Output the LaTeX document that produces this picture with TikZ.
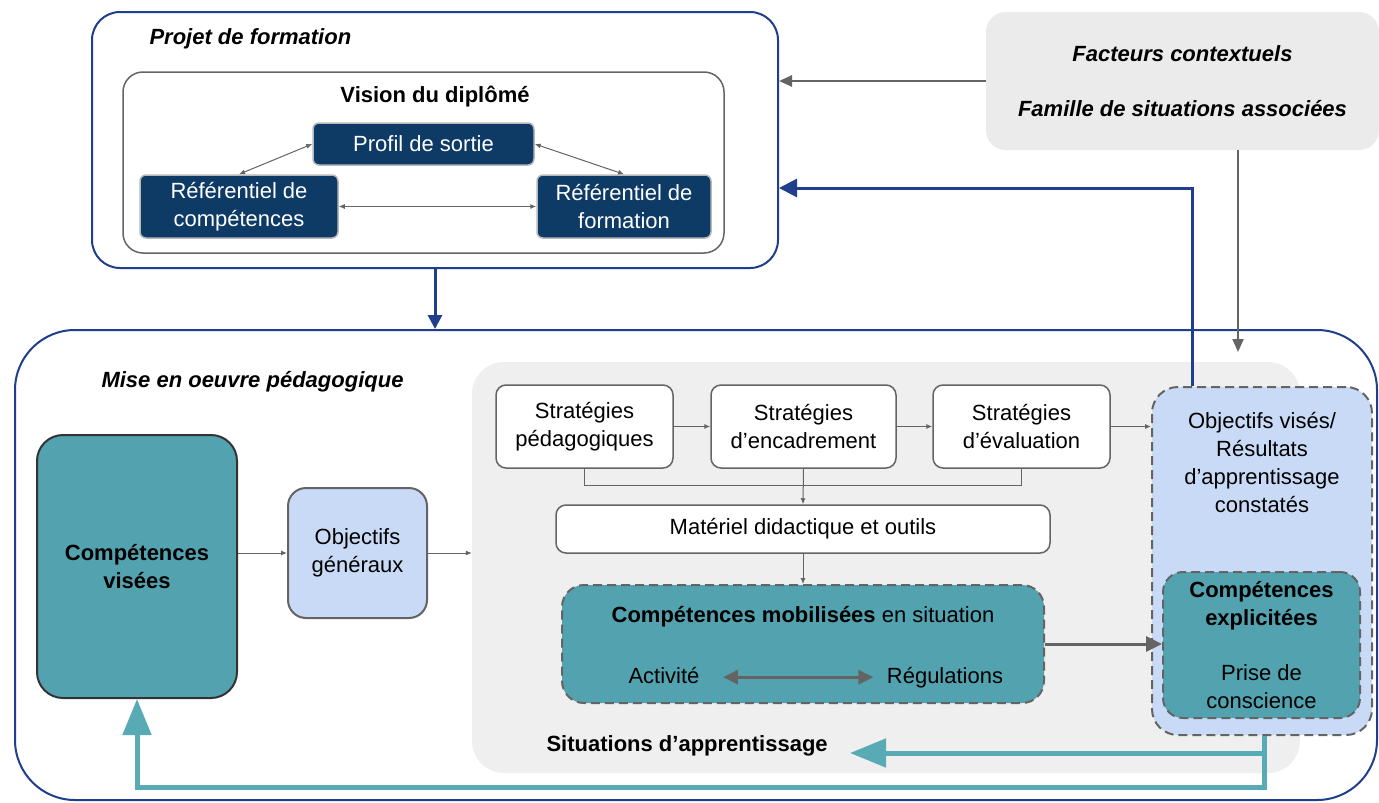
\documentclass[tikz,border=0pt]{standalone}
\usepackage{fontspec}
\setmainfont{Liberation Sans}
\usetikzlibrary{arrows.meta}
\definecolor{frameblue}{RGB}{31,62,140}
\definecolor{navyfill}{RGB}{14,58,102}
\definecolor{tealfill}{RGB}{82,163,175}
\definecolor{tealline}{RGB}{88,170,181}
\definecolor{paleblue}{RGB}{201,218,247}
\definecolor{situgray}{RGB}{239,239,239}
\definecolor{ctxgray}{RGB}{235,235,235}
\definecolor{linegray}{RGB}{100,100,100}
\newcommand{\diagfont}{\fontsize{22}{28}\selectfont}

\begin{document}
\begin{tikzpicture}[x=1pt,y=-1pt,font=\diagfont,
	frame/.style={draw=frameblue,line width=2pt,rounded corners=28pt,inner sep=0pt},
	innerframe/.style={draw=linegray,line width=1.5pt,rounded corners=20pt,inner sep=0pt},
	navybox/.style={draw=gray!55,line width=1.5pt,fill=navyfill,text=white,rounded corners=6pt,align=center,inner sep=0pt},
	whitebox/.style={draw=linegray,line width=1.5pt,fill=white,rounded corners=10pt,align=center,inner sep=0pt},
	dashbox/.style={draw=linegray,line width=2pt,dash pattern=on 9pt off 5pt,rounded corners=22pt,align=center,inner sep=0pt},
	boldital/.style={font=\diagfont\bfseries\itshape},
	thinarrow/.style={draw=linegray,line width=1pt,-{Latex[length=6pt,width=5pt]}},
	thinboth/.style={draw=linegray,line width=1pt,{Latex[length=6pt,width=5pt]}-{Latex[length=6pt,width=5pt]}},
	grayarrow/.style={draw=linegray,line width=2.5pt,-{Triangle[length=13pt,width=11pt]}},
	bluearrow/.style={draw=frameblue,line width=3pt,-{Triangle[length=18pt,width=18pt]}},
	tealarrow/.style={draw=tealline,line width=5pt,-{Triangle[length=36pt,width=28pt]}}]
	\path[fill=white,use as bounding box] (0,0) rectangle (1379,803);

	\node[frame,minimum width=686,minimum height=256] (projet) at (435,140) {};
	\node[boldital,anchor=west] (projettitle) at (146,39) {Projet de formation};
	\node[innerframe,minimum width=601,minimum height=181] (vision) at (423.5,162.5) {};
	\node[font=\diagfont\bfseries] (visiontitle) at (435,97) {Vision du diplômé};
	\node[navybox,minimum width=221,minimum height=42] (profil) at (423.5,144) {Profil de sortie};
	\node[navybox,minimum width=198,minimum height=63] (refcomp) at (239,206.5) {Référentiel de\\compétences};
	\node[navybox,minimum width=174,minimum height=63] (refform) at (624,206.5) {Référentiel de\\formation};
	\draw[thinboth] (refcomp.north) -- (profil.west);
	\draw[thinboth] (profil.east) -- (refform.north);
	\draw[thinboth] (refcomp.east) -- (refform.west);

	\node[fill=ctxgray,rounded corners=20pt,minimum width=393,minimum height=138,align=center,boldital] (ctx) at (1182.5,81) {Facteurs contextuels\\[27pt]Famille de situations associées};

	\node[frame,rounded corners=60pt,minimum width=1362,minimum height=470] (mise) at (696,565) {};
	\node[boldital,anchor=west] (misetitle) at (98,382) {Mise en oeuvre pédagogique};
	\node[fill=situgray,rounded corners=32pt,minimum width=828,minimum height=411,inner sep=0pt] (situ) at (886,567.5) {};
	\node[font=\diagfont\bfseries,anchor=west] (situtitle) at (543,746) {Situations d’apprentissage};

	\node[draw=gray!40!black,line width=2pt,fill=tealfill,rounded corners=26pt,minimum width=200,minimum height=263,font=\diagfont\bfseries,align=center,inner sep=0pt] (compvis) at (137,566.5) {Compétences\\visées};
	\node[draw=linegray,line width=2pt,fill=paleblue,rounded corners=18pt,minimum width=139,minimum height=130,align=center,inner sep=0pt] (objgen) at (357.5,553) {Objectifs\\généraux};

	\node[whitebox,minimum width=177,minimum height=83] (stratped) at (584.5,426.5) {Stratégies\\pédagogiques};
	\node[whitebox,minimum width=185,minimum height=83] (stratenc) at (803.5,426.5) {Stratégies\\d’encadrement};
	\node[whitebox,minimum width=177,minimum height=83] (strateval) at (1021.5,426.5) {Stratégies\\d’évaluation};
	\node[whitebox,minimum width=494,minimum height=48] (materiel) at (803,529) {Matériel didactique et outils};

	\node[dashbox,fill=tealfill,minimum width=482,minimum height=118] (compmob) at (803,644) {};
	\node (mobtitle) at (803,617) {\textbf{Compétences mobilisées} en situation};
	\node[anchor=base] (activite) at (664,683) {Activité};
	\node[anchor=base] (regul) at (945,683) {Régulations};

	\node[dashbox,fill=paleblue,rounded corners=26pt,minimum width=220,minimum height=348] (objvises) at (1262,561) {};
	\node[align=center] (objtxt) at (1262,463) {Objectifs visés/\\Résultats\\d’apprentissage\\constatés};
	\node[dashbox,fill=tealfill,rounded corners=20pt,minimum width=197,minimum height=146] (explic) at (1261.5,645) {\textbf{Compétences}\\\textbf{explicitées}\\[27pt]Prise de\\conscience};

	\draw[grayarrow] (ctx.west) -- (ctx.west -| projet.east);
	\coordinate (ctxdrop) at (1238,352);
	\draw[grayarrow,line width=2pt] (ctx.south -| ctxdrop) -- (ctxdrop);
	\coordinate (bluebend) at (1192,188);
	\draw[bluearrow] (objvises.north -| bluebend) -- (bluebend) -- (bluebend -| projet.east);
	\draw[bluearrow,-{Triangle[length=14pt,width=14pt]}] (projet.south) -- (projet.south |- mise.north);

	\draw[thinarrow] (compvis.east |- objgen.west) -- (objgen.west);
	\draw[thinarrow] (objgen.east) -- (objgen.east -| situ.west);
	\draw[thinarrow] (stratped.east) -- (stratenc.west);
	\draw[thinarrow] (stratenc.east) -- (strateval.west);
	\draw[thinarrow] (strateval.east) -- (strateval.east -| objvises.west);
	\draw[draw=linegray,line width=1pt] (stratped.south) -- ++(0,17) -| (strateval.south);
	\draw[thinarrow] (stratenc.south) -- (materiel.north);
	\draw[thinarrow] (materiel.south) -- (compmob.north);
	\draw[grayarrow,line width=3pt,{Triangle[length=15pt,width=14pt]}-{Triangle[length=15pt,width=14pt]},shorten <=20pt,shorten >=10pt] (activite.east |- regul.west) -- (regul.west);
	\draw[grayarrow,line width=3pt,-{Triangle[length=16pt,width=15pt]}] (compmob.east) -- (compmob.east -| explic.west);

	\coordinate (loopcorner) at (1264,787);
	\coordinate (situtip) at (850,753);
	\draw[tealarrow] (objvises.south -| loopcorner) |- (situtip);
	\draw[tealarrow] (objvises.south -| loopcorner) -- (loopcorner) -| (compvis.south);
\end{tikzpicture}
\end{document}
